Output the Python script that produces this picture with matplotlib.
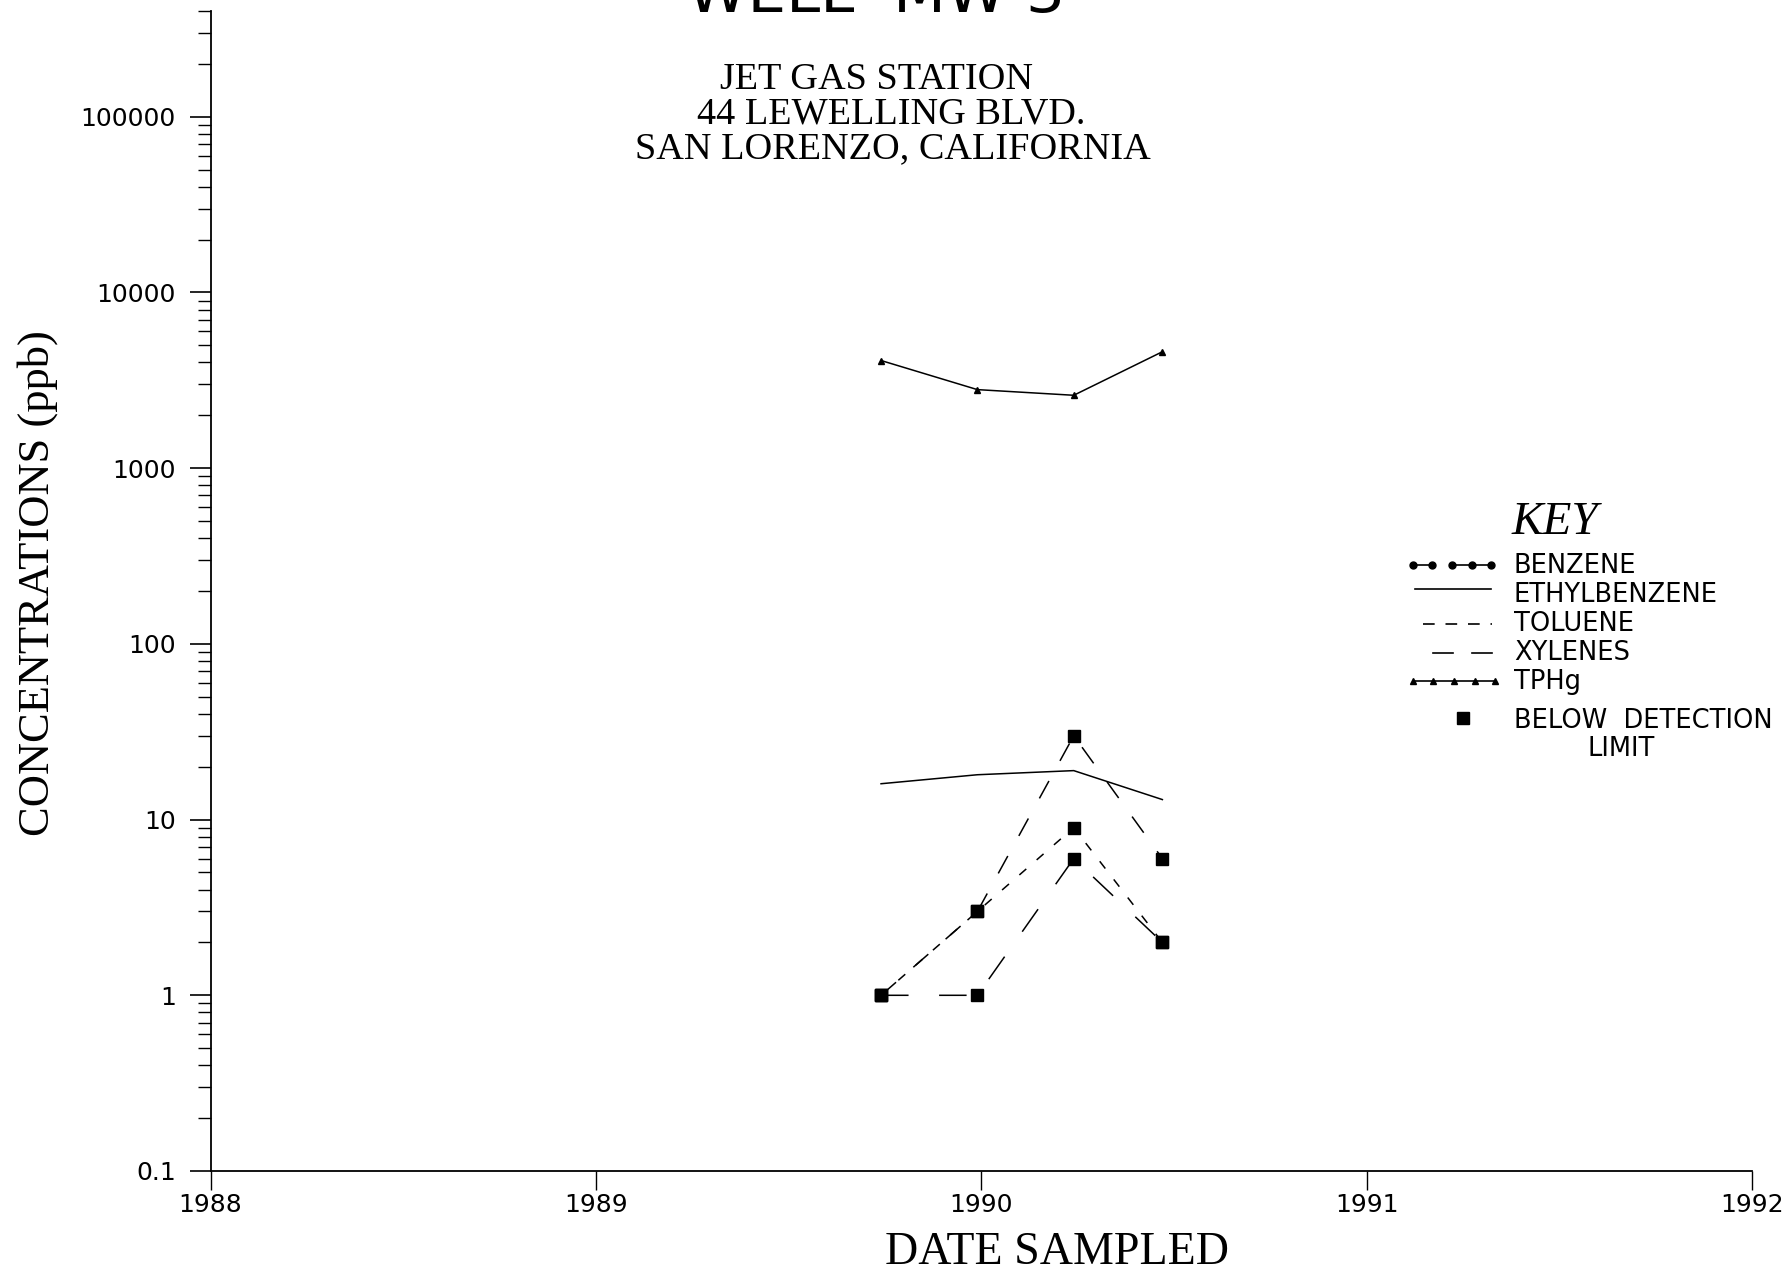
import matplotlib
matplotlib.use("Agg")
import matplotlib.pyplot as plt
from matplotlib.ticker import FixedLocator, NullFormatter

# ---------------- data ----------------
dates = [1989.74, 1989.99, 1990.24, 1990.47]          # decimal years sampled
benzene = [1, 1, 6, 2]
toluene = [1, 3, 9, 2]
ethylbenzene = [16, 18, 19, 13]
xylenes = [1, 3, 30, 6]
tphg = [4100, 2800, 2600, 4600]
benzene_bdl = [True, True, True, True]
toluene_bdl = [True, True, True, True]
xylenes_bdl = [True, True, True, True]

year_ticks = [1988, 1989, 1990, 1991, 1992]
year_labels = ["1988", "1989", "1990", "1991", "1992"]
conc_ticks = [0.1, 1, 10, 100, 1000, 10000, 100000]
conc_labels = ["0.1", "1", "10", "100", "1000", "10000", "100000"]

legend_names = ["BENZENE", "ETHYLBENZENE", "TOLUENE", "XYLENES", "TPHg"]
title_main = "WELL  MW-3"
subtitle_lines = ["JET GAS STATION", "44 LEWELLING BLVD.", "SAN LORENZO, CALIFORNIA"]

# ---------------- figure ----------------
W, H = 1792, 1272
fig = plt.figure(figsize=(W / 100, H / 100), dpi=100)
fig.patch.set_facecolor("white")

ax_left, ax_right = 210.5 / W, 1752 / W
ax_bottom, ax_top = 1 - 1171 / H, 1 - 11 / H
ax = fig.add_axes([ax_left, ax_bottom, ax_right - ax_left, ax_top - ax_bottom])
ax.patch.set_alpha(0)
ax.set_yscale("log")
ax.set_xlim(1988, 1992)
ax.set_ylim(0.1, 4.0e5)

for s in ["top", "right"]:
    ax.spines[s].set_visible(False)
for s in ["left", "bottom"]:
    ax.spines[s].set_linewidth(1.3)
    ax.spines[s].set_color("black")

ax.set_xticks(year_ticks)
ax.set_xticklabels(year_labels)
ax.yaxis.set_major_locator(FixedLocator(conc_ticks))
ax.set_yticklabels(conc_labels)
minors = [m * 10.0 ** e for e in range(-1, 6) for m in range(2, 10)]
ax.yaxis.set_minor_locator(FixedLocator(minors))
ax.yaxis.set_minor_formatter(NullFormatter())
ax.xaxis.set_minor_locator(FixedLocator([]))

for lab in ax.get_xticklabels() + ax.get_yticklabels():
    lab.set_fontfamily("DejaVu Sans")
    lab.set_fontsize(18)
ax.tick_params(axis="y", which="major", direction="out", length=15, width=1.2, pad=10)
ax.tick_params(axis="y", which="minor", direction="out", length=9.5, width=1.0)
ax.tick_params(axis="x", which="major", direction="out", length=14, width=1.0, pad=2)

lw = 1.1
# TPHg
ax.plot(dates, tphg, color="black", lw=lw, marker="^", ms=5, zorder=3)
# Ethylbenzene
ax.plot(dates, ethylbenzene, color="black", lw=lw, ls="-", zorder=3)
# Benzene
ax.plot(dates, benzene, color="black", lw=lw, ls=(0, (18, 20)), zorder=3)
# Toluene
ax.plot(dates, toluene, color="black", lw=lw, ls=(0, (6, 9)), zorder=3)
# Xylenes
ax.plot(dates, xylenes, color="black", lw=lw, ls=(0, (13, 15)), zorder=3)

# below detection limit squares
for series, flags in [(benzene, benzene_bdl), (toluene, toluene_bdl), (xylenes, xylenes_bdl)]:
    xs = [d for d, f in zip(dates, flags) if f]
    ys = [v for v, f in zip(series, flags) if f]
    ax.plot(xs, ys, ls="none", marker="s", ms=8, color="black", zorder=4)

# ---------------- overlay for text & key (pixel coords) ----------------
ov = fig.add_axes([0, 0, 1, 1], zorder=5)
ov.set_xlim(0, W)
ov.set_ylim(H, 0)
ov.axis("off")

serif = "Liberation Serif"
ov.text(876, 12, title_main, family="DejaVu Sans", fontsize=44,
        ha="center", va="baseline", color="black")
for (txt, cx, cy) in zip(subtitle_lines, [876, 891, 893], [80, 114, 149]):
    ov.text(cx, cy, txt, family=serif, fontsize=27.5, ha="center", va="center")

ov.text(38, 583, "CONCENTRATIONS (ppb)", family=serif, fontsize=32,
        rotation=90, ha="center", va="center")
ov.text(1057, 1253, "DATE SAMPLED", family=serif, fontsize=33,
        ha="center", va="center")

# KEY
ov.text(1512, 523, "KEY", family=serif, style="italic", fontsize=34,
        ha="left", va="center")
rows = [566, 595, 624, 653, 682]
key_fs = 18.5
for name, y in zip(legend_names, rows):
    ov.text(1514, y, name, family="DejaVu Sans", fontsize=key_fs, ha="left", va="center")
# benzene key sample
bx = [1413, 1432, 1452, 1472, 1491]
y0 = rows[0] - 1
ov.plot(bx[0:2], [y0, y0], color="black", lw=1.2)
ov.plot(bx[2:5], [y0] * 3, color="black", lw=1.2)
ov.plot(bx, [y0] * 5, ls="none", marker="o", ms=5, color="black")
# ethylbenzene
ov.plot([1415, 1491], [rows[1] - 6, rows[1] - 6], color="black", lw=1.2)
# toluene
ov.plot([1423, 1492], [rows[2], rows[2]], color="black", lw=1.2, ls=(0, (7, 6.5)))
# xylenes
ov.plot([1433, 1453], [rows[3], rows[3]], color="black", lw=1.2)
ov.plot([1472, 1492], [rows[3], rows[3]], color="black", lw=1.2)
# TPHg
tx = [1413, 1433, 1454, 1475, 1495]
ov.plot(tx, [rows[4] - 1] * 5, color="black", lw=1.2, marker="^", ms=5)
# below detection
ov.plot([1463], [718], ls="none", marker="s", ms=8, color="black")
ov.text(1514, 721, "BELOW  DETECTION", family="DejaVu Sans", fontsize=key_fs, ha="left", va="center")
ov.text(1621, 749, "LIMIT", family="DejaVu Sans", fontsize=key_fs, ha="center", va="center")

fig.savefig("out.png", dpi=100, facecolor="white")
